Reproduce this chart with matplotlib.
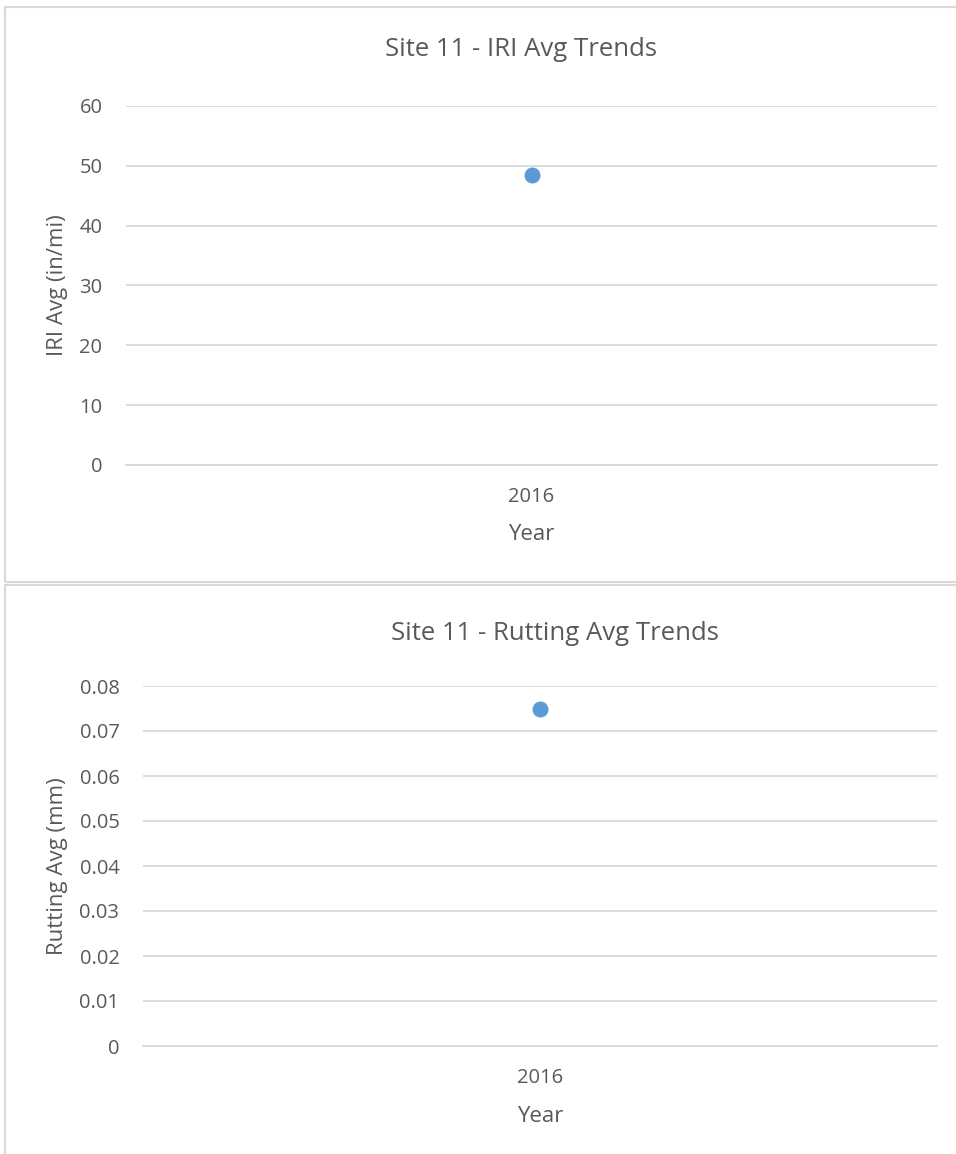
import matplotlib
matplotlib.use("Agg")
import matplotlib.pyplot as plt
from matplotlib.patches import Rectangle

plt.rcParams['font.family'] = ['Open Sans', 'DejaVu Sans']

categories = ["2016"]
iri_avg = [48.5]
rutting_avg = [0.075]
iri_ticks = [0, 10, 20, 30, 40, 50, 60]
rut_ticks = [0, 0.01, 0.02, 0.03, 0.04, 0.05, 0.06, 0.07, 0.08]
rut_tick_labels = ["0", "0.01", "0.02", "0.03", "0.04", "0.05", "0.06", "0.07", "0.08"]

W, H = 956, 1154
fig = plt.figure(figsize=(W / 100, H / 100), dpi=100)
fig.patch.set_facecolor("white")

TEXT = "#595959"
GRID = "#D9D9D9"
BLUE = "#5B9BD5"

def fx(px):
    return px / W

def fy(py):
    return 1 - py / H

# chart borders
fig.patches.append(Rectangle((fx(5), fy(582)), fx(1100), 575 / H, transform=fig.transFigure,
                             fill=False, edgecolor=GRID, linewidth=1.5))
fig.patches.append(Rectangle((fx(5), fy(1200)), fx(1100), (1200 - 585) / H, transform=fig.transFigure,
                             fill=False, edgecolor=GRID, linewidth=1.5))

def make_panel(left, right, top, bottom, values, ticks, ticklabels, ylim, ylabel, title,
               title_x, title_y, ylabel_x, xlabel_y):
    ax = fig.add_axes([fx(left), fy(bottom), (right - left) / W, (bottom - top) / H])
    x = list(range(len(categories)))
    ax.plot(x, values, linestyle="none", marker="o", markersize=10.5, color=BLUE, zorder=3)
    ax.set_xlim(-0.5, len(categories) - 0.5)
    ax.set_ylim(*ylim)
    ax.set_yticks(ticks)
    ax.set_yticklabels(ticklabels)
    ax.set_xticks(x)
    ax.set_xticklabels(categories)
    ax.grid(axis="y", color=GRID, linewidth=1.3)
    ax.set_axisbelow(True)
    for s in ["top", "right", "left"]:
        ax.spines[s].set_visible(False)
    ax.spines["bottom"].set_color(GRID)
    ax.spines["bottom"].set_linewidth(1.3)
    ax.tick_params(axis="both", length=0, labelsize=14.5, labelcolor=TEXT)
    ax.tick_params(axis="y", pad=17)
    ax.tick_params(axis="x", pad=16)
    fig.text(fx(title_x), fy(title_y), title, ha="center", va="center", fontsize=18.5, color=TEXT)
    fig.text(fx(ylabel_x), fy((top + bottom) / 2), ylabel, ha="center", va="center",
             rotation=90, fontsize=16, color=TEXT)
    fig.text(fx((left + right) / 2), fy(xlabel_y), "Year", ha="center", va="center",
             fontsize=16, color=TEXT)
    return ax

make_panel(126, 937, 106, 465, iri_avg, iri_ticks, [str(t) for t in iri_ticks], (0, 60),
           "IRI Avg (in/mi)", "Site 11 - IRI Avg Trends", 521, 50, 57, 535)
make_panel(143, 937, 686, 1046, rutting_avg, rut_ticks, rut_tick_labels, (0, 0.08),
           "Rutting Avg (mm)", "Site 11 - Rutting Avg Trends", 555, 634, 57, 1116)

fig.savefig("out.png", dpi=100, facecolor="white")
